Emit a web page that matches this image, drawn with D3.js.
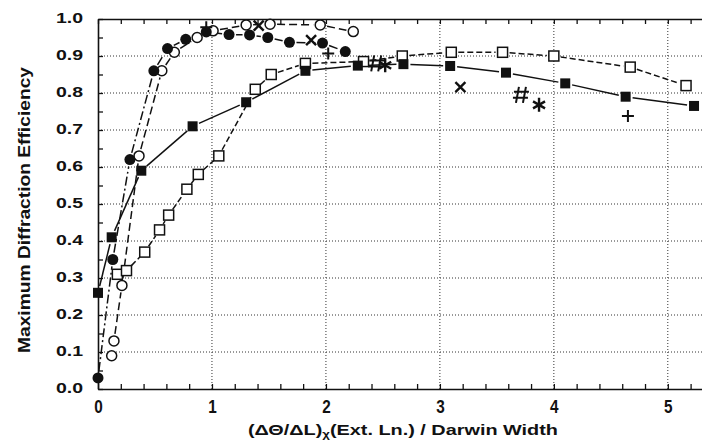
<!DOCTYPE html>
<html>
<head>
<meta charset="utf-8">
<script src="https://cdn.jsdelivr.net/npm/d3@7"></script>
<style>
  body { margin: 0; background: #fff; }
  svg { display: block; }
  text { font-family: "Liberation Sans", Arial, sans-serif; font-weight: bold; fill: #111; }
</style>
</head>
<body>
<div id="chart"></div>
<script>
// values: [x, efficiency]
var filledCircles = [[0, 0.03], [0.13, 0.35], [0.28, 0.62], [0.49, 0.86], [0.61, 0.92], [0.77, 0.945],
    [0.95, 0.965], [1.15, 0.958], [1.33, 0.957], [1.49, 0.95], [1.68, 0.937], [1.97, 0.935], [2.17, 0.912]];
var openCircles = [[0.12, 0.09], [0.14, 0.13], [0.21, 0.28], [0.36, 0.63], [0.56, 0.86], [0.67, 0.91],
    [0.87, 0.95], [1.01, 0.968], [1.30, 0.984], [1.51, 0.986], [1.95, 0.984], [2.24, 0.966]];
var filledSquares = [[0, 0.26], [0.12, 0.41], [0.38, 0.59], [0.83, 0.71], [1.30, 0.775], [1.82, 0.86],
    [2.28, 0.874], [2.68, 0.878], [3.09, 0.873], [3.58, 0.855], [4.10, 0.826], [4.63, 0.79], [5.23, 0.765]];
var openSquares = [[0.17, 0.31], [0.25, 0.32], [0.41, 0.37], [0.54, 0.43], [0.62, 0.47], [0.78, 0.54],
    [0.88, 0.58], [1.06, 0.63], [1.38, 0.81], [1.52, 0.85], [1.82, 0.88], [2.33, 0.885], [2.67, 0.90],
    [3.10, 0.91], [3.55, 0.91], [4.0, 0.90], [4.67, 0.87], [5.16, 0.82]];
var plusPts = [[0.95, 0.978], [2.02, 0.907], [4.65, 0.738]];
var crossPts = [[1.41, 0.982], [1.87, 0.943], [3.18, 0.816]];
var hashPts = [[2.45, 0.88], [3.72, 0.795]];
var starPts = [[2.52, 0.875], [3.87, 0.768]];

var xTicks = [0, 1, 2, 3, 4, 5];
var yTicks = [0, 0.1, 0.2, 0.3, 0.4, 0.5, 0.6, 0.7, 0.8, 0.9, 1.0];
var xMinor = d3.range(0, 5.3, 0.2);
var yMinor = d3.range(0, 1.001, 0.05);

var W = 702, H = 446;
var svg = d3.select("#chart").append("svg").attr("width", W).attr("height", H);

var x = d3.scaleLinear().domain([0, 5.3]).range([98, 702]);
var y = d3.scaleLinear().domain([0, 1]).range([389, 19]);

// dotted grid
svg.append("g").selectAll("line").data(yTicks.slice(1, 10)).enter().append("line")
    .attr("x1", x(0)).attr("x2", x(5.3))
    .attr("y1", function(d) { return y(d); }).attr("y2", function(d) { return y(d); })
    .attr("stroke", "#333").attr("stroke-width", 1).attr("stroke-dasharray", "1,2");
svg.append("g").selectAll("line").data(xTicks.slice(1)).enter().append("line")
    .attr("y1", y(0)).attr("y2", y(1))
    .attr("x1", function(d) { return x(d); }).attr("x2", function(d) { return x(d); })
    .attr("stroke", "#333").attr("stroke-width", 1).attr("stroke-dasharray", "1,2");

// frame + inward ticks
function styleAxis(g) {
    g.select(".domain").attr("stroke", "#111").attr("stroke-width", 1.6);
    g.selectAll(".tick line").attr("stroke", "#111").attr("stroke-width", 1.3);
}
svg.append("g").attr("transform", "translate(0," + y(0) + ")")
    .call(d3.axisBottom(x).tickValues(xMinor).tickSize(-5).tickSizeOuter(0).tickFormat(""))
    .call(styleAxis);
svg.append("g").attr("transform", "translate(0," + y(1) + ")")
    .call(d3.axisTop(x).tickValues(xMinor).tickSize(-5).tickSizeOuter(0).tickFormat(""))
    .call(styleAxis);
svg.append("g").attr("transform", "translate(" + x(0) + ",0)")
    .call(d3.axisLeft(y).tickValues(yMinor).tickSize(-5).tickSizeOuter(0).tickFormat(""))
    .call(styleAxis);

// tick labels
var xLab = svg.append("g").attr("transform", "translate(0," + y(0) + ")")
    .call(d3.axisBottom(x).tickValues(xTicks).tickSize(0).tickPadding(11).tickFormat(d3.format("d")));
xLab.select(".domain").remove();
xLab.selectAll("text").style("font-size", "18px").attr("transform", "scale(0.85,1)");

var yLab = svg.append("g").attr("transform", "translate(" + x(0) + ",0)")
    .call(d3.axisLeft(y).tickValues(yTicks).tickSize(0).tickPadding(11.5).tickFormat(d3.format(".1f")));
yLab.select(".domain").remove();
yLab.selectAll("text").style("font-size", "15px").attr("dy", "0.2em").attr("transform", "scale(1.3,1)");

// axis titles
svg.append("text")
    .attr("transform", "translate(30,210) rotate(-90)")
    .attr("text-anchor", "middle")
    .attr("textLength", 286).attr("lengthAdjust", "spacingAndGlyphs")
    .style("font-size", "17px")
    .text("Maximum Diffraction Efficiency");

var xt = svg.append("text")
    .attr("x", 403).attr("y", 435)
    .attr("text-anchor", "middle")
    .attr("textLength", 310).attr("lengthAdjust", "spacingAndGlyphs")
    .style("font-size", "15px");
xt.append("tspan").text("(ΔΘ/ΔL)");
xt.append("tspan").attr("dy", 3).style("font-size", "10px").text("χ");
xt.append("tspan").attr("dy", -3).text("(Ext. Ln.) / Darwin Width");

// connecting lines, broken short of each marker as in the original
function drawLine(data, dash) {
    var segs = [];
    for (var i = 0; i < data.length - 1; i++) {
        var x1 = x(data[i][0]), y1 = y(data[i][1]), x2 = x(data[i + 1][0]), y2 = y(data[i + 1][1]);
        var len = Math.sqrt((x2 - x1) * (x2 - x1) + (y2 - y1) * (y2 - y1));
        var gap = 7;
        if (len < 2 * gap + 3) continue;
        var ux = (x2 - x1) / len, uy = (y2 - y1) / len;
        segs.push([x1 + ux * gap, y1 + uy * gap, x2 - ux * gap, y2 - uy * gap]);
    }
    svg.append("g").selectAll("line").data(segs).enter().append("line")
        .attr("x1", function(d) { return d[0]; }).attr("y1", function(d) { return d[1]; })
        .attr("x2", function(d) { return d[2]; }).attr("y2", function(d) { return d[3]; })
        .attr("stroke", "#111").attr("stroke-width", 1.5)
        .attr("stroke-dasharray", dash);
}
drawLine(openSquares, "6,3");
drawLine(filledSquares, null);
drawLine(openCircles, "8,4");
drawLine(filledCircles, "9,3,2,3");

// markers
svg.append("g").selectAll("rect").data(openSquares).enter().append("rect")
    .attr("x", function(d) { return x(d[0]) - 5; }).attr("y", function(d) { return y(d[1]) - 5; })
    .attr("width", 10).attr("height", 10)
    .attr("fill", "#fff").attr("stroke", "#111").attr("stroke-width", 1.5);
svg.append("g").selectAll("rect").data(filledSquares).enter().append("rect")
    .attr("x", function(d) { return x(d[0]) - 5; }).attr("y", function(d) { return y(d[1]) - 5; })
    .attr("width", 10).attr("height", 10).attr("fill", "#111");
svg.append("g").selectAll("circle").data(openCircles).enter().append("circle")
    .attr("cx", function(d) { return x(d[0]); }).attr("cy", function(d) { return y(d[1]); })
    .attr("r", 5).attr("fill", "#fff").attr("stroke", "#111").attr("stroke-width", 1.5);
svg.append("g").selectAll("circle").data(filledCircles).enter().append("circle")
    .attr("cx", function(d) { return x(d[0]); }).attr("cy", function(d) { return y(d[1]); })
    .attr("r", 5.5).attr("fill", "#111");

function symbolPath(data, pathFn, width) {
    svg.append("g").selectAll("path").data(data).enter().append("path")
        .attr("transform", function(d) { return "translate(" + x(d[0]) + "," + y(d[1]) + ")"; })
        .attr("d", pathFn).attr("fill", "none").attr("stroke", "#111")
        .attr("stroke-width", width).attr("stroke-linecap", "butt");
}
symbolPath(plusPts, function() { return "M-6,0H6M0,-6V6"; }, 2);
symbolPath(crossPts, function() { return "M-5,-5L5,5M-5,5L5,-5"; }, 2.4);
symbolPath(hashPts, function() { return "M-3,-8L-6,8M4,-8L1,8M-8,-3H7M-9,3H6"; }, 2);
symbolPath(starPts, function() { return "M0,-7V7M-6,-3.5L6,3.5M-6,3.5L6,-3.5"; }, 2.4);
</script>
</body>
</html>
